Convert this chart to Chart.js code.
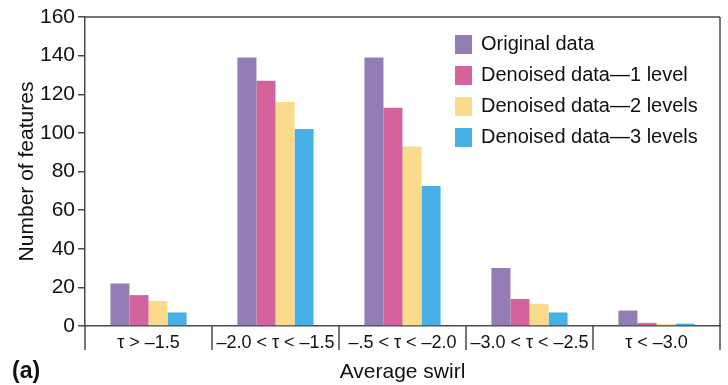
<!DOCTYPE html>
<html>
<head>
<meta charset="utf-8">
<script src="https://cdn.jsdelivr.net/npm/chart.js@4"></script>
<style>
  html, body { margin: 0; padding: 0; background: #fff; }
  #wrap { width: 728px; height: 385px; }
</style>
</head>
<body>
<div id="wrap"><canvas id="swirlChart" width="728" height="385"></canvas></div>
<script>
const categories = ["τ > –1.5", "–2.0 < τ < –1.5", "–.5 < τ < –2.0", "–3.0 < τ < –2.5", "τ < –3.0"];
const seriesNames = ["Original data", "Denoised data—1 level", "Denoised data—2 levels", "Denoised data—3 levels"];
const original = [22, 139, 139, 30, 8];
const level1 = [16, 127, 113, 14, 1.6];
const level2 = [13, 116, 93, 11.5, 1];
const level3 = [7, 102, 72.5, 7, 1.2];
const colors = ["#947db4", "#d3649b", "#fada8b", "#47b0e6"];

const FONT = "'Liberation Sans', Arial, sans-serif";
const AXIS = "#4a4a4a";

const extras = {
    id: "extras",
    afterDraw(chart) {
        const ctx = chart.ctx;
        const a = chart.chartArea;
        const x = chart.scales.x;
        ctx.save();
        ctx.strokeStyle = AXIS;
        ctx.lineWidth = 1.5;
        // frame top and right
        ctx.beginPath();
        ctx.moveTo(a.left, a.top);
        ctx.lineTo(a.right, a.top);
        ctx.moveTo(a.right, a.top);
        ctx.lineTo(a.right, a.bottom + 24);
        ctx.moveTo(a.left, a.bottom);
        ctx.lineTo(a.left, a.bottom + 24);
        // category separators below the axis
        for (let i = 1; i < categories.length; i++) {
            const px = (x.getPixelForValue(i - 1) + x.getPixelForValue(i)) / 2;
            ctx.moveTo(px, a.bottom);
            ctx.lineTo(px, a.bottom + 24);
        }
        ctx.stroke();

        // legend inside plot
        ctx.font = "20px " + FONT;
        ctx.textBaseline = "middle";
        ctx.textAlign = "left";
        chart.data.datasets.forEach(function (ds, i) {
            const cy = 44 + i * 31;
            ctx.fillStyle = ds.backgroundColor;
            ctx.fillRect(455, cy - 9, 17, 19);
            ctx.fillStyle = "#111";
            ctx.fillText(ds.label, 481, cy);
        });

        // panel label
        ctx.font = "bold 23px " + FONT;
        ctx.fillStyle = "#111";
        ctx.textBaseline = "alphabetic";
        ctx.fillText("(a)", 12, 378);
        ctx.restore();
    }
};

const ctx = document.getElementById("swirlChart").getContext("2d");
new Chart(ctx, {
    type: "bar",
    data: {
        labels: categories,
        datasets: [original, level1, level2, level3].map(function (vals, i) {
            return {
                label: seriesNames[i],
                data: vals,
                backgroundColor: colors[i],
                borderWidth: 0,
                barPercentage: 1,
                categoryPercentage: 0.6
            };
        })
    },
    options: {
        responsive: false,
        animation: false,
        layout: { padding: { top: 17, right: 8, left: 10, bottom: 0 } },
        plugins: { legend: { display: false }, tooltip: { enabled: false } },
        scales: {
            x: {
                grid: { display: false, drawTicks: false },
                border: { display: true, color: AXIS, width: 1.5 },
                ticks: { font: { family: FONT, size: 18 }, color: "#111", padding: 6, maxRotation: 0, minRotation: 0, autoSkip: false },
                title: { display: true, text: "Average swirl", font: { family: FONT, size: 21 }, color: "#111", padding: { top: 0, bottom: 0 } },
                afterFit: function (s) { s.height = 59; }
            },
            y: {
                min: 0,
                max: 160,
                ticks: { stepSize: 20, font: { family: FONT, size: 21 }, color: "#111", padding: 3 },
                grid: { drawOnChartArea: false, tickLength: 7, color: AXIS, lineWidth: 1.5 },
                border: { display: true, color: AXIS, width: 1.5 },
                title: { display: true, text: "Number of features", font: { family: FONT, size: 21 }, color: "#111", padding: { top: 5, bottom: 0 } },
                afterFit: function (s) { s.width = 75; }
            }
        }
    },
    plugins: [extras]
});
</script>
</body>
</html>
